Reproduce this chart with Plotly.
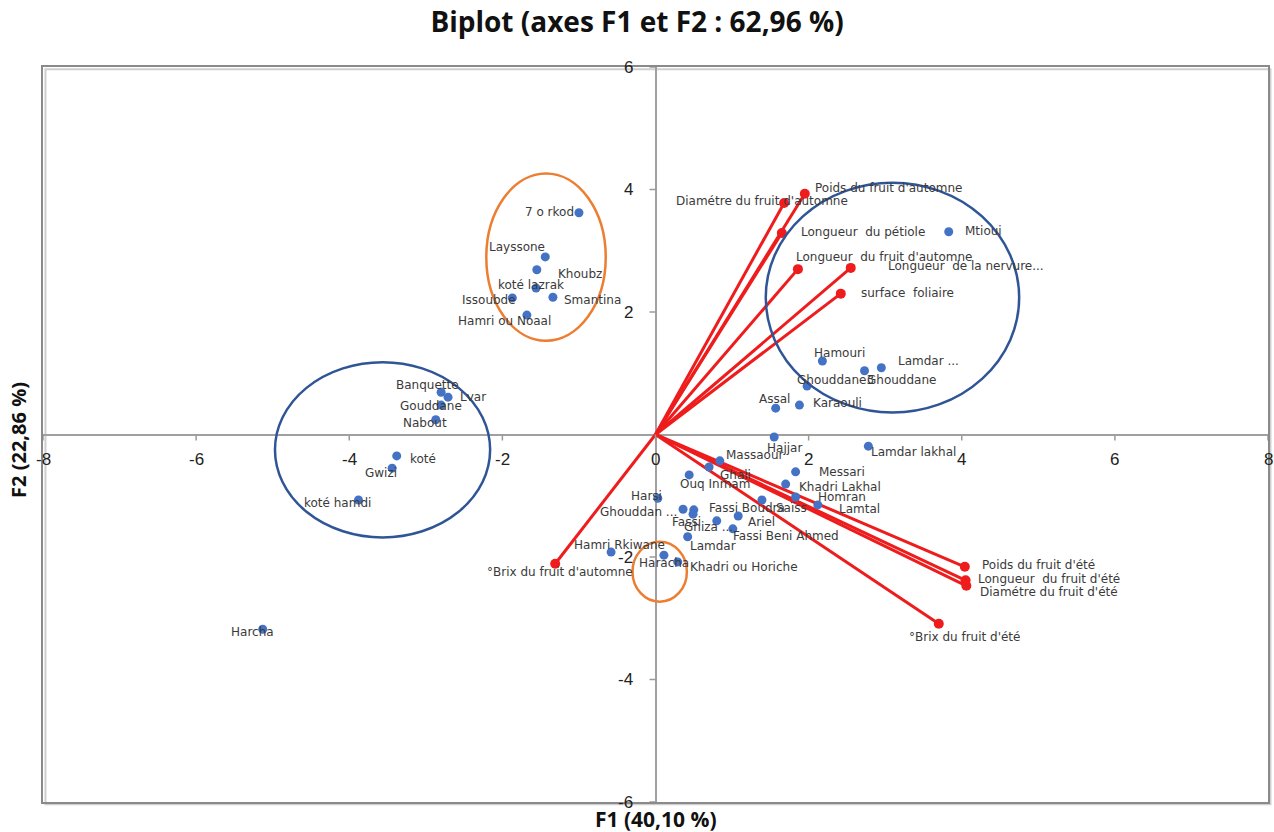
import plotly.graph_objects as go

# ---- Individuals (scores on F1 / F2) ----
ind_names = [
    "7 o rkod", "Layssone", "Khoubz", "koté lazrak", "Smantina", "Issoubde", "Hamri ou Noaal",
    "Mtioui", "Hamouri", "Ghouddane", "Lamdar ...", "Ghouddane3", "Assal", "Karaouli",
    "Hajjar", "Lamdar lakhal",
    "Banquette", "Lvar", "Gouddane", "Nabout", "koté", "Gwizi", "koté hamdi", "Harcha",
    "Massaour", "Ghali", "Ouq Inmam", "Messari", "Khadri Lakhal", "Homran", "Lamtal",
    "Harsi", "Ghouddan ...", "Fassi", "Ghiza ...", "Fassi Boudra", "Ariel", "Saïss",
    "Fassi Beni Ahmed", "Lamdar", "Hamri Rkiwane", "Haracha", "Khadri ou Horiche",
]
ind_f1 = [
    -1.00, -1.44, -1.55, -1.56, -1.34, -1.87, -1.68,
    3.83, 2.18, 2.73, 2.95, 1.98, 1.57, 1.88,
    1.55, 2.78,
    -2.80, -2.71, -2.80, -2.87, -3.38, -3.44, -3.88, -5.13,
    0.84, 0.70, 0.44, 1.83, 1.70, 1.83, 2.12,
    0.03, 0.36, 0.50, 0.49, 0.80, 1.08, 1.39,
    1.01, 0.42, -0.58, 0.11, 0.29,
]
ind_f2 = [
    3.62, 2.90, 2.69, 2.39, 2.24, 2.23, 1.95,
    3.31, 1.20, 1.04, 1.09, 0.79, 0.43, 0.48,
    -0.04, -0.19,
    0.69, 0.61, 0.48, 0.24, -0.35, -0.55, -1.07, -3.18,
    -0.43, -0.53, -0.66, -0.61, -0.81, -1.02, -1.15,
    -1.04, -1.22, -1.23, -1.30, -1.41, -1.33, -1.07,
    -1.54, -1.67, -1.92, -1.97, -2.08,
]

# ---- Variables (loadings drawn as vectors from the origin) ----
var_names = [
    "Poids du fruit d'automne", "Diamétre du fruit d'automne", "Longueur  du pétiole",
    "Longueur  du fruit d'automne", "Longueur  de la nervure...", "surface  foliaire",
    "Poids du fruit d'été", "Longueur  du fruit d'été", "Diamétre du fruit d'été",
    "°Brix du fruit d'été", "°Brix du fruit d'automne",
]
var_f1 = [1.95, 1.68, 1.65, 1.86, 2.55, 2.42, 4.04, 4.05, 4.06, 3.70, -1.31]
var_f2 = [3.93, 3.78, 3.29, 2.70, 2.72, 2.30, -2.16, -2.38, -2.47, -3.09, -2.11]

# ---- Axis ticks ----
x_ticks = [-8, -6, -4, -2, 0, 2, 4, 6, 8]
y_ticks = [-6, -4, -2, 2, 4, 6]

# label offsets in pixels (dx right, dy down) relative to each mark
ind_label_offsets = [
    (-29, -1), (-28, -10), (43, 4), (-5, -3), (40, 3), (-23, 2), (-22, 6),
    (35, -1), (17, -8), (37, 9), (47, -7), (28, -6), (-1, -9), (38, -2),
    (10, 11), (45, 6),
    (-14, -7), (25, 0), (-10, 1), (-11, 3), (26, 3), (-11, 5), (-21, 3), (-10, 3),
    (35, -6), (26, 8), (26, 9), (46, 0), (54, 3), (46, 0), (42, 4),
    (-11, -2), (-45, 3), (-7, 12), (15, 13), (30, -13), (23, 6), (30, 8),
    (53, 7), (25, 9), (8, -7), (0, 8), (66, 5),
]
var_label_offsets = [
    (84, -6), (-22, -2), (81, -1), (86, -12), (115, -2), (67, -1),
    (74, -2), (83, -1), (83, 6), (26, 13), (5, 8),
]

RED = "#ee1c1c"
BLUE_DOT = "#4472c4"
BLUE_RING = "#2f5597"
ORANGE = "#ed7d31"
LABEL_FONT = dict(family="DejaVu Sans", size=12, color="#3a3a3a")

fig = go.Figure()

# vectors
vx, vy = [], []
for a, b in zip(var_f1, var_f2):
    vx += [0, a, None]
    vy += [0, b, None]
fig.add_trace(go.Scatter(x=vx, y=vy, mode="lines",
                         line=dict(color=RED, width=3), hoverinfo="skip"))
fig.add_trace(go.Scatter(x=var_f1, y=var_f2, mode="markers",
                         marker=dict(color=RED, size=10), text=var_names,
                         hoverinfo="text"))

# individuals
fig.add_trace(go.Scatter(x=ind_f1, y=ind_f2, mode="markers",
                         marker=dict(color=BLUE_DOT, size=9), text=ind_names,
                         hoverinfo="text"))

annotations = []
for name, a, b, (dx, dy) in zip(ind_names, ind_f1, ind_f2, ind_label_offsets):
    annotations.append(dict(x=a, y=b, text=name, showarrow=False, xshift=dx, yshift=-dy,
                            font=LABEL_FONT))
for name, a, b, (dx, dy) in zip(var_names, var_f1, var_f2, var_label_offsets):
    annotations.append(dict(x=a, y=b, text=name, showarrow=False, xshift=dx, yshift=-dy,
                            font=LABEL_FONT))

TICK_FONT = dict(family="Liberation Sans", size=17, color="#222222")
for v in x_ticks:
    annotations.append(dict(x=v, y=0, text=str(v), showarrow=False, yshift=-25,
                            font=TICK_FONT))
for v in y_ticks:
    annotations.append(dict(x=0, y=v, text=str(v), showarrow=False, xanchor="right",
                            xshift=-21, font=TICK_FONT))

# axis titles
annotations.append(dict(x=0, xref="x", y=-0.0235, yref="paper", yanchor="middle",
                        text="<b>F1 (40,10 %)</b>", showarrow=False,
                        font=dict(family="Open Sans", size=21, color="#111")))
annotations.append(dict(x=-0.0205, xref="paper", xanchor="center", y=0.4925, yref="paper",
                        yanchor="middle", text="<b>F2 (22,86 %)</b>", textangle=-90,
                        showarrow=False,
                        font=dict(family="Open Sans", size=20, color="#111")))

shapes = []
# tick marks on the zero axes
for v in x_ticks:
    shapes.append(dict(type="line", xref="x", yref="y", x0=v, x1=v, ysizemode="pixel",
                       yanchor=0, y0=0, y1=-6, line=dict(color="#9a9a9a", width=1.5)))
for v in y_ticks:
    shapes.append(dict(type="line", xref="x", yref="y", y0=v, y1=v, xsizemode="pixel",
                       xanchor=0, x0=0, x1=-6, line=dict(color="#9a9a9a", width=1.5)))

# group outlines
shapes += [
    dict(type="circle", xref="x", yref="y", x0=-2.21, x1=-0.65, y0=1.53, y1=4.26,
         line=dict(color=ORANGE, width=2.5)),
    dict(type="circle", xref="x", yref="y", x0=-4.97, x1=-2.16, y0=-1.68, y1=1.18,
         line=dict(color=BLUE_RING, width=2.5)),
    dict(type="circle", xref="x", yref="y", x0=1.44, x1=4.75, y0=0.36, y1=4.11,
         line=dict(color=BLUE_RING, width=2.5)),
    dict(type="circle", xref="x", yref="y", x0=-0.30, x1=0.41, y0=-2.73, y1=-1.75,
         line=dict(color=ORANGE, width=2.5)),
]
# frame shadow
shapes.append(dict(type="rect", xref="paper", yref="paper", x0=0.002, x1=1.002,
                   y0=-0.003, y1=0.997, line=dict(color="#cfcfcf", width=2), layer="below"))

fig.update_layout(
    width=1274, height=832,
    margin=dict(l=43, r=4, t=67, b=30),
    paper_bgcolor="white", plot_bgcolor="white",
    showlegend=False,
    title=dict(text="<b>Biplot (axes F1 et F2 : 62,96 %)</b>", x=0.5, xanchor="center",
               y=1 - 22 / 832, yanchor="middle",
               font=dict(family="Open Sans", size=28, color="#111")),
    xaxis=dict(range=[-8, 8], showgrid=False, zeroline=True, zerolinecolor="#a0a0a0",
               zerolinewidth=1.5, showticklabels=False, ticks="", showline=True,
               mirror=True, linecolor="#8a8a8a", linewidth=2),
    yaxis=dict(range=[-6, 6], showgrid=False, zeroline=True, zerolinecolor="#a0a0a0",
               zerolinewidth=1.5, showticklabels=False, ticks="", showline=True,
               mirror=True, linecolor="#8a8a8a", linewidth=2),
    annotations=annotations,
    shapes=shapes,
)

fig.write_html("out.html")
